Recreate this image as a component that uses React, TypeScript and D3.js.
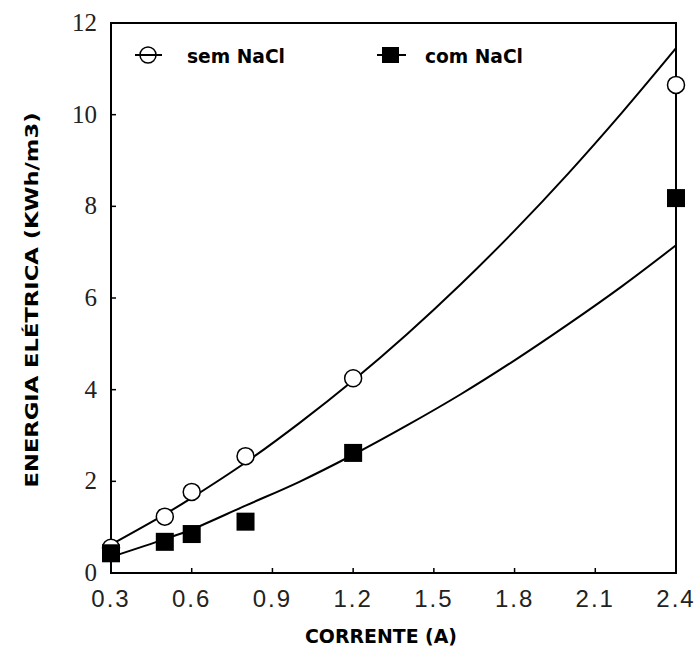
import * as React from 'react'
import * as d3 from 'd3'

// currents (A) where measurements were taken
const correnteMedida = [0.3, 0.5, 0.6, 0.8, 1.2, 2.4]
const semNaCl = [0.55, 1.23, 1.77, 2.55, 4.25, 10.65]
const comNaCl = [0.43, 0.68, 0.85, 1.12, 2.62, 8.18]

// fitted curves
const correnteAjuste = [0.3, 0.5, 0.6, 0.8, 1.0, 1.2, 1.4, 1.6, 1.8, 2.0, 2.2, 2.4]
const ajusteSem = [0.62, 1.28, 1.64, 2.41, 3.27, 4.2, 5.21, 6.3, 7.47, 8.72, 10.05, 11.45]
const ajusteCom = [0.35, 0.74, 0.95, 1.47, 1.99, 2.58, 3.22, 3.9, 4.64, 5.43, 6.26, 7.15]

const xTicks = [0.3, 0.6, 0.9, 1.2, 1.5, 1.8, 2.1, 2.4]
const yTicks = [0, 2, 4, 6, 8, 10, 12]

const W = 700
const H = 656
const margin = { left: 111, right: 24, top: 23, bottom: 83 }

const boldFont = '"DejaVu Sans Condensed", "Liberation Sans Narrow", sans-serif'

export default function App() {
  const x = d3.scaleLinear().domain([0.3, 2.4]).range([margin.left, W - margin.right])
  const y = d3.scaleLinear().domain([0, 12]).range([H - margin.bottom, margin.top])

  const line = d3
    .line<number>()
    .x((_, i) => x(correnteAjuste[i]))
    .y((d) => y(d))
    .curve(d3.curveCatmullRom)

  const x0 = x.range()[0]
  const x1 = x.range()[1]
  const y0 = y.range()[0]
  const y1 = y.range()[1]

  return (
    <svg width={W} height={H} style={{ position: 'absolute', left: 0, top: 0, background: '#fff' }}>
      <rect x={0} y={0} width={W} height={H} fill="#fff" />

      {/* frame */}
      <rect x={x0} y={y1} width={x1 - x0} height={y0 - y1} fill="none" stroke="#000" strokeWidth={2} />

      {/* x ticks */}
      {xTicks.map((t) => (
        <g key={'x' + t}>
          <line x1={x(t)} x2={x(t)} y1={y0} y2={y0 - 5} stroke="#000" strokeWidth={1.5} />
          <text
            x={x(t)}
            y={607}
            textAnchor="middle"
            fontFamily='"Liberation Sans", Arial, sans-serif'
            fontSize={24}
            letterSpacing={2}
            fill="#222"
          >
            {t.toFixed(1)}
          </text>
        </g>
      ))}

      {/* y ticks */}
      {yTicks.map((t) => (
        <g key={'y' + t}>
          <line x1={x0} x2={x0 + 5} y1={y(t)} y2={y(t)} stroke="#000" strokeWidth={1.5} />
          <text
            x={97}
            y={y(t) + 8}
            textAnchor="end"
            fontFamily='"Liberation Serif", "Times New Roman", serif'
            fontSize={25}
            fill="#222"
          >
            {t}
          </text>
        </g>
      ))}

      {/* fitted curves */}
      <path d={line(ajusteSem) || ''} fill="none" stroke="#000" strokeWidth={2} />
      <path d={line(ajusteCom) || ''} fill="none" stroke="#000" strokeWidth={2} />

      {/* data points */}
      {correnteMedida.map((c, i) => (
        <circle key={'s' + i} cx={x(c)} cy={y(semNaCl[i])} r={8.5} fill="#fff" stroke="#000" strokeWidth={1.5} />
      ))}
      {correnteMedida.map((c, i) => (
        <rect key={'c' + i} x={x(c) - 9} y={y(comNaCl[i]) - 9} width={18} height={18} fill="#000" />
      ))}

      {/* legend */}
      <line x1={135} x2={162} y1={55} y2={55} stroke="#000" strokeWidth={2} />
      <circle cx={148} cy={55} r={8} fill="none" stroke="#000" strokeWidth={1.5} />
      <text x={187} y={63} fontFamily={boldFont} fontWeight="bold" fontSize={19} textLength={98} lengthAdjust="spacingAndGlyphs">
        sem NaCl
      </text>
      <line x1={377} x2={406} y1={55} y2={55} stroke="#000" strokeWidth={2} />
      <rect x={382} y={47} width={17} height={16} fill="#000" />
      <text x={425} y={63} fontFamily={boldFont} fontWeight="bold" fontSize={19} textLength={98} lengthAdjust="spacingAndGlyphs">
        com NaCl
      </text>

      {/* axis titles */}
      <text
        x={381}
        y={643}
        textAnchor="middle"
        fontFamily={boldFont}
        fontWeight="bold"
        fontSize={19}
        textLength={152}
        lengthAdjust="spacingAndGlyphs"
      >
        CORRENTE (A)
      </text>
      <text
        transform="translate(38,300) rotate(-90)"
        textAnchor="middle"
        fontFamily={boldFont}
        fontWeight="bold"
        fontSize={18}
        textLength={375}
        lengthAdjust="spacingAndGlyphs"
      >
        ENERGIA ELÉTRICA (KWh/m3)
      </text>
    </svg>
  )
}
